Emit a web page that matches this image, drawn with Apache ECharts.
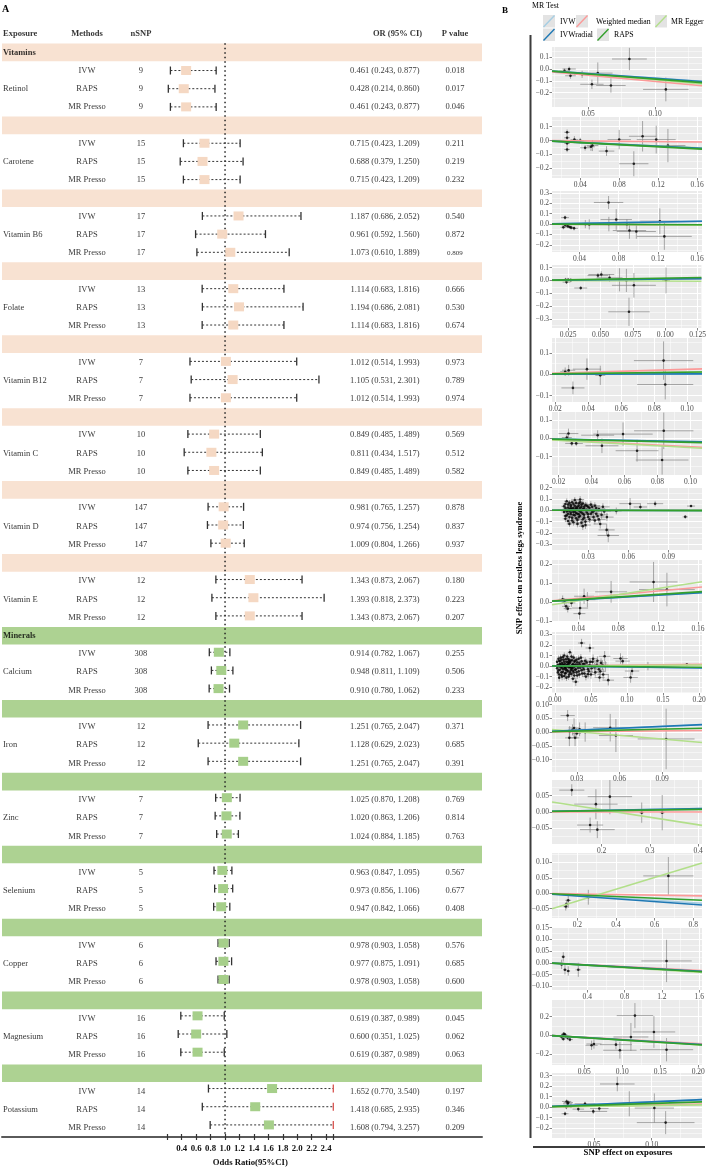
<!DOCTYPE html>
<html><head><meta charset="utf-8">
<script src="https://cdn.jsdelivr.net/npm/echarts@6/dist/echarts.min.js"></script>
<style>html,body{margin:0;padding:0;background:#fff}#c{width:709px;height:1172px}</style>
</head><body><div id="c"></div>
<script>
// ================= DATA : panel A (forest table) =================
const vitaminExposures = ["Retinol","Carotene","Vitamin B6","Folate","Vitamin B12","Vitamin C","Vitamin D","Vitamin E"];
const mineralExposures = ["Calcium","Iron","Zinc","Selenium","Copper","Magnesium","Potassium"];
const methods = ["IVW","RAPS","MR Presso"];
const nSNP = [9,15,17,13,7,10,147,12,308,12,7,5,6,16,14];
const orEstimate = [[0.461,0.428,0.461],[0.715,0.688,0.715],[1.187,0.961,1.073],[1.114,1.194,1.114],[1.012,1.105,1.012],[0.849,0.811,0.849],[0.981,0.974,1.009],[1.343,1.393,1.343],[0.914,0.948,0.910],[1.251,1.128,1.251],[1.025,1.020,1.024],[0.963,0.973,0.947],[0.978,0.977,0.978],[0.619,0.600,0.619],[1.652,1.418,1.608]];
const orLower = [[0.243,0.214,0.243],[0.423,0.379,0.423],[0.686,0.592,0.610],[0.683,0.686,0.683],[0.514,0.531,0.514],[0.485,0.434,0.485],[0.765,0.756,0.804],[0.873,0.818,0.873],[0.782,0.811,0.780],[0.765,0.629,0.765],[0.870,0.863,0.884],[0.847,0.856,0.842],[0.903,0.875,0.903],[0.387,0.351,0.387],[0.770,0.685,0.794]];
const orUpper = [[0.877,0.860,0.877],[1.209,1.250,1.209],[2.052,1.560,1.889],[1.816,2.081,1.816],[1.993,2.301,1.993],[1.489,1.517,1.489],[1.257,1.254,1.266],[2.067,2.373,2.067],[1.067,1.109,1.062],[2.047,2.023,2.047],[1.208,1.206,1.185],[1.095,1.106,1.066],[1.058,1.091,1.058],[0.989,1.025,0.989],[3.540,2.935,3.257]];
const pValues = [["0.018","0.017","0.046"],["0.211","0.219","0.232"],["0.540","0.872","0.809"],["0.666","0.530","0.674"],["0.973","0.789","0.974"],["0.569","0.512","0.582"],["0.878","0.837","0.937"],["0.180","0.223","0.207"],["0.255","0.506","0.233"],["0.371","0.685","0.391"],["0.769","0.814","0.763"],["0.567","0.677","0.408"],["0.576","0.685","0.600"],["0.045","0.062","0.063"],["0.197","0.346","0.209"]];
const pValueSmall = [[2,2]];
const orAxisMin = 0.2, orAxisMax = 2.5, orAxisStep = 0.2, orNull = 1.0;

// ================= DATA : panel B (SNP scatter) [x, y, xSE, ySE] =================
const mrTests = ["IVW","Weighted median","MR Egger","IVWradial","RAPS"];
const snpRetinol = [[0.0323,-0.016,0.004,0.02],[0.0358,0.0,0.005,0.02],[0.0368,-0.057,0.004,0.025],[0.0455,-0.045,0.006,0.03],[0.0528,-0.129,0.0087,0.04],[0.0572,-0.035,0.011,0.09],[0.067,-0.139,0.011,0.06],[0.0808,0.084,0.013,0.094],[0.108,-0.172,0.017,0.1]];
const snpCarotene = [[0.0265,0.06,0.003,0.02],[0.0265,0.02,0.003,0.02],[0.0265,-0.02,0.003,0.025],[0.0265,-0.064,0.003,0.02],[0.034,0.007,0.004,0.025],[0.04,0.0,0.004,0.02],[0.045,-0.052,0.005,0.02],[0.051,-0.045,0.004,0.03],[0.0525,-0.036,0.006,0.04],[0.067,-0.076,0.008,0.035],[0.080,0.007,0.012,0.07],[0.095,-0.167,0.015,0.09],[0.104,0.031,0.014,0.11],[0.118,0.007,0.02,0.1],[0.130,-0.036,0.018,0.12]];
const snpVitaminB6 = [[0.0253,0.0625,0.004,0.02],[0.0236,-0.031,0.003,0.02],[0.0255,-0.01,0.003,0.02],[0.028,-0.02,0.003,0.015],[0.03,-0.028,0.003,0.015],[0.0315,-0.034,0.004,0.02],[0.0345,-0.041,0.004,0.02],[0.046,0.0,0.004,0.04],[0.05,-0.003,0.005,0.05],[0.0697,0.209,0.015,0.0625],[0.07,0.0,0.003,0.07],[0.0775,0.044,0.016,0.1],[0.0884,-0.003,0.007,0.05],[0.091,-0.0625,0.017,0.08],[0.098,-0.072,0.02,0.07],[0.122,0.028,0.02,0.125],[0.1266,-0.119,0.028,0.13]];
const snpFolate = [[0.023,0.005,0.003,0.015],[0.025,0.005,0.003,0.015],[0.0237,-0.013,0.003,0.015],[0.027,0.002,0.003,0.015],[0.0347,-0.059,0.005,0.015],[0.048,0.038,0.008,0.02],[0.0506,0.046,0.01,0.025],[0.057,0.02,0.01,0.03],[0.0647,0.005,0.004,0.09],[0.07,0.0,0.004,0.09],[0.0758,-0.038,0.017,0.096],[0.072,-0.244,0.016,0.11],[0.1006,0.0,0.003,0.1]];
const snpVitaminB12 = [[0.026,0.012,0.003,0.02],[0.0281,0.019,0.004,0.025],[0.0307,-0.064,0.007,0.03],[0.0392,0.024,0.0086,0.05],[0.0473,-0.005,0.003,0.045],[0.0857,0.064,0.018,0.09],[0.0867,-0.048,0.017,0.07]];
const snpVitaminC = [[0.025,0.005,0.003,0.02],[0.026,0.027,0.006,0.027],[0.028,-0.027,0.004,0.015],[0.0307,-0.027,0.004,0.015],[0.0437,0.018,0.01,0.027],[0.0463,-0.04,0.01,0.04],[0.0591,0.024,0.018,0.064],[0.0676,-0.067,0.013,0.06],[0.0838,0.042,0.018,0.1],[0.0828,-0.118,0.016,0.08]];
const snpVitaminD = [[0.013,0.020,0.002,0.025],[0.014,-0.010,0.002,0.022],[0.015,0.050,0.002,0.028],[0.015,-0.030,0.002,0.024],[0.016,0.010,0.002,0.020],[0.016,-0.060,0.002,0.026],[0.017,0.030,0.002,0.023],[0.017,-0.020,0.002,0.021],[0.018,0.000,0.002,0.020],[0.018,0.070,0.003,0.030],[0.019,-0.040,0.002,0.025],[0.019,0.020,0.002,0.022],[0.020,-0.010,0.003,0.020],[0.020,0.040,0.003,0.026],[0.021,-0.070,0.003,0.030],[0.021,0.010,0.003,0.021],[0.022,0.030,0.003,0.024],[0.022,-0.030,0.003,0.022],[0.023,0.000,0.003,0.020],[0.023,0.060,0.003,0.028],[0.024,-0.050,0.003,0.026],[0.024,0.020,0.003,0.022],[0.025,-0.020,0.003,0.024],[0.025,0.050,0.003,0.030],[0.026,0.010,0.003,0.022],[0.026,-0.080,0.003,0.032],[0.027,0.030,0.003,0.025],[0.027,-0.040,0.003,0.026],[0.028,0.000,0.004,0.024],[0.029,0.040,0.004,0.028],[0.029,-0.020,0.004,0.026],[0.030,-0.060,0.004,0.030],[0.031,0.020,0.004,0.026],[0.032,-0.030,0.004,0.028],[0.033,0.030,0.004,0.030],[0.034,-0.010,0.004,0.028],[0.035,-0.090,0.004,0.034],[0.036,0.020,0.004,0.030],[0.037,-0.050,0.005,0.032],[0.038,0.010,0.005,0.030],[0.040,-0.040,0.005,0.034],[0.041,0.030,0.005,0.032],[0.014,0.080,0.002,0.024],[0.016,-0.120,0.002,0.026],[0.018,-0.090,0.002,0.028],[0.020,0.090,0.003,0.026],[0.022,-0.120,0.003,0.030],[0.024,0.070,0.003,0.028],[0.026,-0.140,0.003,0.034],[0.028,-0.100,0.004,0.032],[0.013,-0.050,0.002,0.022],[0.015,0.000,0.002,0.020],[0.017,0.010,0.002,0.020],[0.019,-0.015,0.002,0.020],[0.021,0.025,0.003,0.022],[0.023,-0.035,0.003,0.024],[0.012,0.035,0.002,0.024],[0.012,-0.015,0.002,0.022],[0.013,0.055,0.002,0.026],[0.013,-0.075,0.002,0.028],[0.014,0.005,0.002,0.020],[0.014,-0.045,0.002,0.024],[0.015,0.025,0.002,0.022],[0.015,-0.095,0.002,0.030],[0.016,0.065,0.002,0.026],[0.016,-0.005,0.002,0.020],[0.017,-0.035,0.002,0.024],[0.017,0.045,0.002,0.026],[0.018,-0.065,0.002,0.028],[0.018,0.015,0.002,0.022],[0.019,0.055,0.003,0.026],[0.019,-0.105,0.003,0.030],[0.020,-0.045,0.003,0.026],[0.020,0.005,0.003,0.022],[0.021,0.065,0.003,0.028],[0.021,-0.025,0.003,0.024],[0.022,0.010,0.003,0.022],[0.022,-0.085,0.003,0.030],[0.023,0.040,0.003,0.026],[0.023,-0.060,0.003,0.028],[0.024,-0.010,0.003,0.024],[0.024,0.095,0.003,0.030],[0.025,0.030,0.003,0.026],[0.025,-0.110,0.003,0.032],[0.026,-0.030,0.003,0.026],[0.026,0.060,0.003,0.028],[0.027,-0.065,0.003,0.028],[0.027,0.010,0.003,0.024],[0.028,0.045,0.004,0.028],[0.028,-0.130,0.004,0.034],[0.029,0.005,0.004,0.026],[0.030,0.030,0.004,0.028],[0.030,-0.035,0.004,0.028],[0.031,-0.080,0.004,0.030],[0.032,0.050,0.004,0.030],[0.033,-0.015,0.004,0.028],[0.034,-0.060,0.004,0.030],[0.035,0.040,0.004,0.030],[0.036,-0.030,0.004,0.030],[0.038,-0.080,0.005,0.034],[0.042,-0.010,0.005,0.032],[0.044,-0.060,0.005,0.036],[0.039,-0.121,0.005,0.040],[0.0438,-0.173,0.006,0.050],[0.045,-0.222,0.008,0.060],[0.051,-0.006,0.004,0.030],[0.0613,0.058,0.008,0.050],[0.069,0.029,0.005,0.030],[0.080,0.058,0.006,0.025],[0.1025,-0.058,0.002,0.015],[0.1068,0.037,0.003,0.010]];
const snpVitaminE = [[0.0242,0.014,0.004,0.02],[0.026,0.0,0.003,0.02],[0.0276,-0.023,0.004,0.02],[0.0293,-0.035,0.004,0.02],[0.033,-0.005,0.004,0.02],[0.041,-0.061,0.006,0.03],[0.0417,-0.032,0.008,0.035],[0.0457,0.03,0.01,0.04],[0.049,0.012,0.008,0.04],[0.0728,0.053,0.016,0.057],[0.1154,0.105,0.024,0.105],[0.1288,0.065,0.028,0.088]];
const snpCalcium = [[0.004,0.010,0.001,0.030],[0.005,-0.040,0.001,0.035],[0.006,0.050,0.001,0.030],[0.006,-0.080,0.001,0.035],[0.007,0.020,0.001,0.025],[0.008,-0.010,0.002,0.028],[0.008,0.080,0.002,0.030],[0.009,-0.060,0.002,0.030],[0.010,0.030,0.002,0.025],[0.010,-0.100,0.002,0.035],[0.011,0.000,0.002,0.022],[0.012,0.060,0.002,0.028],[0.012,-0.030,0.002,0.026],[0.013,0.100,0.002,0.030],[0.014,-0.070,0.002,0.030],[0.014,0.020,0.002,0.024],[0.015,-0.020,0.002,0.025],[0.016,0.040,0.002,0.026],[0.016,-0.110,0.002,0.032],[0.017,0.010,0.002,0.024],[0.018,-0.050,0.002,0.028],[0.018,0.070,0.003,0.030],[0.019,-0.010,0.003,0.025],[0.020,0.030,0.003,0.026],[0.020,-0.080,0.003,0.030],[0.021,0.000,0.003,0.024],[0.022,0.050,0.003,0.028],[0.022,-0.040,0.003,0.028],[0.023,0.090,0.003,0.032],[0.024,-0.020,0.003,0.026],[0.025,0.020,0.003,0.026],[0.025,-0.120,0.003,0.034],[0.026,-0.060,0.003,0.030],[0.027,0.040,0.003,0.028],[0.028,0.000,0.003,0.026],[0.029,-0.030,0.004,0.028],[0.030,0.060,0.004,0.030],[0.031,-0.090,0.004,0.032],[0.032,0.010,0.004,0.028],[0.033,-0.050,0.004,0.030],[0.034,0.030,0.004,0.030],[0.035,-0.015,0.004,0.030],[0.036,0.080,0.004,0.034],[0.038,-0.070,0.005,0.034],[0.039,0.020,0.005,0.032],[0.040,-0.030,0.005,0.032],[0.042,0.050,0.005,0.034],[0.043,-0.100,0.005,0.036],[0.045,0.000,0.005,0.034],[0.047,-0.050,0.006,0.036],[0.049,0.040,0.006,0.036],[0.051,-0.020,0.006,0.038],[0.053,0.070,0.006,0.040],[0.056,-0.060,0.007,0.040],[0.058,0.010,0.007,0.040],[0.061,-0.030,0.007,0.042],[0.064,0.030,0.008,0.044],[0.067,-0.080,0.008,0.046],[0.070,0.000,0.008,0.046],[0.009,0.000,0.002,0.020],[0.013,-0.005,0.002,0.020],[0.017,0.005,0.002,0.020],[0.021,-0.012,0.003,0.022],[0.027,0.008,0.003,0.024],[0.011,0.015,0.002,0.022],[0.015,-0.035,0.002,0.024],[0.019,0.045,0.003,0.026],[0.023,-0.025,0.003,0.024],[0.003,0.040,0.001,0.030],[0.003,-0.020,0.001,0.030],[0.004,-0.060,0.001,0.032],[0.005,0.070,0.001,0.030],[0.005,0.000,0.001,0.026],[0.006,-0.110,0.001,0.036],[0.007,0.045,0.001,0.028],[0.007,-0.035,0.001,0.028],[0.008,0.015,0.002,0.024],[0.009,-0.085,0.002,0.032],[0.009,0.060,0.002,0.028],[0.010,-0.020,0.002,0.024],[0.011,0.085,0.002,0.030],[0.011,-0.055,0.002,0.028],[0.012,0.010,0.002,0.022],[0.013,-0.095,0.002,0.032],[0.013,0.040,0.002,0.026],[0.014,-0.015,0.002,0.024],[0.015,0.065,0.002,0.028],[0.015,-0.065,0.002,0.028],[0.016,0.000,0.002,0.022],[0.017,0.090,0.002,0.030],[0.017,-0.040,0.002,0.026],[0.018,0.030,0.002,0.026],[0.019,-0.100,0.003,0.032],[0.019,0.010,0.003,0.024],[0.020,0.060,0.003,0.028],[0.021,-0.060,0.003,0.028],[0.021,0.035,0.003,0.026],[0.022,-0.005,0.003,0.024],[0.023,-0.075,0.003,0.030],[0.024,0.055,0.003,0.028],[0.024,0.010,0.003,0.024],[0.025,-0.045,0.003,0.028],[0.026,0.080,0.003,0.030],[0.026,-0.010,0.003,0.026],[0.027,-0.090,0.003,0.032],[0.028,0.050,0.003,0.028],[0.028,-0.035,0.003,0.028],[0.029,0.015,0.004,0.026],[0.030,-0.060,0.004,0.030],[0.031,0.035,0.004,0.028],[0.032,-0.015,0.004,0.028],[0.033,0.070,0.004,0.032],[0.034,-0.080,0.004,0.032],[0.035,0.010,0.004,0.028],[0.037,0.045,0.004,0.032],[0.037,-0.040,0.005,0.032],[0.039,-0.010,0.005,0.030],[0.041,0.020,0.005,0.032],[0.041,-0.070,0.005,0.034],[0.044,0.035,0.005,0.034],[0.046,-0.030,0.005,0.036],[0.048,0.010,0.006,0.036],[0.050,-0.080,0.006,0.040],[0.052,0.040,0.006,0.038],[0.055,-0.010,0.007,0.040],[0.059,0.050,0.007,0.042],[0.063,-0.050,0.008,0.044],[0.066,0.010,0.008,0.044],[0.037,0.219,0.005,0.04],[0.0485,0.172,0.006,0.04],[0.0208,0.131,0.003,0.03],[0.069,0.093,0.008,0.05],[0.074,-0.134,0.008,0.05],[0.029,-0.15,0.004,0.04],[0.062,-0.108,0.007,0.04],[0.091,0.072,0.01,0.05],[0.094,0.047,0.01,0.05],[0.107,-0.047,0.01,0.04],[0.105,-0.108,0.01,0.05],[0.183,0.016,0.005,0.01],[0.046,-0.078,0.006,0.04],[0.129,0.0,0.003,0.04]];
const snpIron = [[0.0236,0.06,0.005,0.02],[0.025,0.002,0.003,0.02],[0.0248,-0.021,0.003,0.03],[0.027,0.008,0.003,0.02],[0.0281,0.015,0.004,0.035],[0.0288,-0.021,0.003,0.03],[0.03,-0.005,0.003,0.02],[0.032,0.01,0.004,0.025],[0.0359,0.0,0.004,0.035],[0.0535,0.016,0.012,0.05],[0.0575,-0.0125,0.012,0.06],[0.0928,-0.025,0.02,0.11]];
const snpZinc = [[0.138,0.067,0.026,0.018],[0.188,0.024,0.045,0.046],[0.217,0.047,0.046,0.054],[0.176,-0.04,0.027,0.023],[0.191,-0.054,0.036,0.026],[0.283,-0.002,0.005,0.031],[0.3255,-0.002,0.005,0.054]];
const snpSelenium = [[0.14,-0.043,0.012,0.013],[0.145,-0.035,0.01,0.015],[0.153,-0.023,0.015,0.024],[0.257,-0.013,0.01,0.024],[0.671,0.056,0.13,0.061]];
const snpCopper = [[0.125,-0.006,0.02,0.02],[0.143,0.026,0.02,0.02],[0.161,-0.029,0.02,0.02],[0.196,-0.034,0.02,0.02],[0.304,-0.029,0.03,0.03],[1.25,0.0086,0.27,0.09]];
const snpMagnesium = [[0.0202,-0.018,0.003,0.02],[0.021,-0.002,0.003,0.015],[0.0224,-0.039,0.003,0.02],[0.023,0.015,0.003,0.02],[0.0246,0.007,0.003,0.02],[0.0254,-0.011,0.003,0.02],[0.028,-0.025,0.004,0.02],[0.0311,-0.046,0.004,0.02],[0.0596,-0.107,0.008,0.05],[0.0627,-0.093,0.01,0.05],[0.0917,-0.1,0.021,0.05],[0.0969,-0.16,0.022,0.09],[0.1114,-0.018,0.023,0.15],[0.1167,0.211,0.024,0.134],[0.1417,0.036,0.028,0.17],[0.1583,-0.154,0.035,0.125]];
const snpPotassium = [[0.0249,-0.063,0.003,0.02],[0.026,0.0,0.003,0.02],[0.0263,0.054,0.004,0.02],[0.0272,0.032,0.004,0.02],[0.0277,0.044,0.004,0.02],[0.03,0.01,0.004,0.02],[0.0364,-0.019,0.005,0.025],[0.0422,0.032,0.009,0.02],[0.0494,-0.041,0.012,0.025],[0.0546,-0.0126,0.008,0.03],[0.0702,0.221,0.015,0.07],[0.0806,0.032,0.015,0.12],[0.1023,-0.009,0.017,0.14],[0.1121,-0.148,0.025,0.11]];
// MR line slopes per exposure: [IVW, Weighted median, MR Egger, IVWradial, RAPS]
const lineSlopes = [[-0.774,-1.05,-1.0,-0.78,-0.849],[-0.335,-0.06,-0.33,-0.34,-0.374],[0.171,-0.05,-0.1,0.17,-0.04],[0.108,0.12,-0.05,0.11,0.177],[0.012,0.23,0.1,0.015,0.1],[-0.164,-0.45,-0.5,-0.17,-0.21],[-0.019,0.0,0.01,-0.02,-0.026],[0.295,0.48,0.8,0.3,0.331],[-0.09,0.08,0.05,-0.09,-0.053],[0.224,0.05,-0.45,0.23,0.12],[0.025,0.0,-0.23,0.025,0.0198],[-0.038,-0.01,0.19,-0.045,-0.027],[-0.022,-0.02,-0.025,-0.022,-0.023],[-0.48,-0.45,-0.5,-0.48,-0.51],[0.502,0.2,0.15,0.5,0.349]];
const eggerIntercepts = [0.01,0.0,0.005,0.0,0.0,0.0,0.0,-0.025,0.0,0.015,0.053,-0.063,0.0,0.0,0.0];
const panelXTicks = [[0.05,0.10],[0.04,0.08,0.12,0.16],[0.04,0.08,0.12,0.16],[0.025,0.050,0.075,0.100,0.125],[0.02,0.04,0.06,0.08,0.10],[0.02,0.04,0.06,0.08,0.10],[0.03,0.06,0.09],[0.04,0.08,0.12,0.16],[0.00,0.05,0.10,0.15,0.20],[0.03,0.06,0.09],[0.2,0.3,0.4],[0.2,0.4,0.6,0.8],[0.4,0.8,1.2,1.6],[0.05,0.10,0.15,0.20],[0.05,0.10]];
const panelYTicks = [[-0.2,-0.1,0,0.1],[-0.2,-0.1,0,0.1],[-0.2,-0.1,0,0.1,0.2,0.3],[-0.3,-0.2,-0.1,0,0.1],[-0.1,0,0.1],[-0.1,0,0.1],[-0.3,-0.2,-0.1,0,0.1,0.2],[-0.1,0,0.1,0.2],[-0.2,-0.1,0,0.1,0.2,0.3],[-0.10,-0.05,0,0.05,0.10],[-0.05,0,0.05],[-0.05,0,0.05,0.10],[-0.10,-0.05,0,0.05,0.10,0.15],[-0.2,0,0.2],[-0.2,-0.1,0,0.1,0.2,0.3]];

// ================= LAYOUT / STYLE =================
const FONT = '"Liberation Serif","Times New Roman",serif';
const snpPanels = [snpRetinol,snpCarotene,snpVitaminB6,snpFolate,snpVitaminB12,snpVitaminC,snpVitaminD,snpVitaminE,snpCalcium,snpIron,snpZinc,snpSelenium,snpCopper,snpMagnesium,snpPotassium];
const panelXRange = [[0.023,0.135],[0.011,0.165],[0.012,0.165],[0.0125,0.128],[0.018,0.109],[0.016,0.107],[0.003,0.115],[0.0135,0.164],[-0.004,0.204],[0.0126,0.118],[0.097,0.408],[0.069,0.845],[0.022,1.63],[0.0075,0.205],[0.0136,0.1436]];
const panelYRange = [[-0.32,0.185],[-0.27,0.17],[-0.27,0.32],[-0.37,0.12],[-0.13,0.17],[-0.2,0.145],[-0.35,0.205],[-0.105,0.22],[-0.256,0.324],[-0.145,0.102],[-0.098,0.098],[-0.08,0.13],[-0.115,0.153],[-0.318,0.378],[-0.295,0.326]];
const panelXDec = [2,2,2,3,2,2,2,2,2,2,1,1,1,2,2];
const panelYDec = [1,1,1,1,1,1,1,1,1,2,2,2,2,1,1];
const panelTops = [47,117,191,265,338,412,487,560,632,704,780,853,927,1000,1073];
const panelHeights = [60,61,61,63,64,63,63,62,61,68,64,65,63,65,65];
const lineColors = ['#A6CEE3','#FB9A99','#B2DF8A','#1F78B4','#33A02C'];
const peachBand = '#F8E2D2', peachBox = '#F5D8C3', greenBand = '#ADD292', greenBox = '#A6CF8A';
const rowH = 18.23, tableTop = 25.07, nRows = 61;

const allExposures = vitaminExposures.concat(mineralExposures);
const grids = [], xAxes = [], yAxes = [], series = [];

// ---- table grid (0) ----
grids.push({left:2, top:tableTop, width:480, height:nRows*rowH, show:false});
xAxes.push({type:'value', gridIndex:0, min:0, max:480, position:'bottom',
  axisLine:{show:true, onZero:false, lineStyle:{color:'#5a5a5a', width:2}},
  axisTick:{show:false}, axisLabel:{show:false}, splitLine:{show:false}});
yAxes.push({type:'value', gridIndex:0, min:0, max:nRows, inverse:true, show:false});
// ---- forest grid (1) ----
grids.push({left:167.3, top:tableTop, width:166, height:nRows*rowH, show:false});
xAxes.push({type:'value', gridIndex:1, min:orAxisMin, max:orAxisMax, interval:orAxisStep, position:'bottom',
  axisLine:{show:false, onZero:false},
  axisTick:{show:true, length:6, lineStyle:{color:'#333', width:1.2}},
  axisLabel:{show:true, margin:10, fontFamily:FONT, fontSize:8.8, fontWeight:'bold', color:'#111',
    formatter: v => (v < 0.3 || v > 2.45) ? '' : v.toFixed(1)},
  splitLine:{show:false},
  name:'Odds Ratio(95%CI)', nameLocation:'middle', nameGap:24,
  nameTextStyle:{fontFamily:FONT, fontSize:8.7, fontWeight:'bold', color:'#111'}});
yAxes.push({type:'value', gridIndex:1, min:0, max:nRows, inverse:true, show:false});

// bands
const bandData = allExposures.map((e, i) => [1 + 4 * i, i < vitaminExposures.length ? 0 : 1]);
series.push({type:'custom', xAxisIndex:0, yAxisIndex:0, silent:true, z:1, data:bandData,
  renderItem:(params, api) => {
    const r = api.value(0);
    const p0 = api.coord([0, r]), p1 = api.coord([480, r + 1]);
    return {type:'rect', shape:{x:p0[0], y:p0[1] + 0.3, width:p1[0] - p0[0], height:p1[1] - p0[1] - 0.6},
      style:{fill: api.value(1) ? greenBand : peachBand}};
  }});

// text helper
function textSeries(items, align, bold, size) {
  return {type:'scatter', xAxisIndex:0, yAxisIndex:0, symbolSize:0.01, silent:true, z:6,
    itemStyle:{color:'rgba(0,0,0,0)'},
    data: items.map(it => ({value:[it[0], it[1]], name:it[2], label: it[3] ? {fontSize: it[3]} : undefined})),
    label:{show:true, position:[0,0], align:align, verticalAlign:'middle', formatter:'{b}',
      fontFamily:FONT, fontSize:size, fontWeight: bold ? 'bold' : 'normal', color:'#000'}};
}
const colExp = 1, colMeth = 85, colN = 139, colOREnd = 417.5, colORHead = 395.5, colP = 453;
series.push(textSeries([[colExp, 0.5, 'Exposure'], [colExp, 1.5, 'Vitamins'], [colExp, 1.5 + 4 * vitaminExposures.length, 'Minerals']], 'left', true, 8.5));
series.push(textSeries([[colMeth, 0.5, 'Methods'], [colN, 0.5, 'nSNP'], [colORHead, 0.5, 'OR (95% CI)'], [colP, 0.5, 'P value']], 'center', true, 8.5));
const expItems = [], methItems = [], nItems = [], orItems = [], pItems = [];
allExposures.forEach((e, i) => {
  expItems.push([colExp, 3.5 + 4 * i, e]);
  methods.forEach((m, j) => {
    const rc = 2.5 + 4 * i + j;
    methItems.push([colMeth, rc, m]);
    nItems.push([colN, rc, String(nSNP[i])]);
    orItems.push([colOREnd, rc, orEstimate[i][j].toFixed(3) + ' (' + orLower[i][j].toFixed(3) + ', ' + orUpper[i][j].toFixed(3) + ')']);
    const small = pValueSmall.some(s => s[0] === i && s[1] === j);
    pItems.push([colP, rc, pValues[i][j], small ? 7 : null]);
  });
});
series.push(textSeries(expItems, 'left', false, 8.5));
series.push(textSeries(methItems.concat(nItems, pItems), 'center', false, 8.5));
series.push(textSeries(orItems, 'right', false, 8.5));

// null line
series.push({type:'line', xAxisIndex:1, yAxisIndex:1, silent:true, z:3, symbol:'none',
  data:[[orNull, 1], [orNull, nRows]], lineStyle:{color:'#222', width:1.5, type:[1.5, 3]}});
// forest rows
const forestData = [];
allExposures.forEach((e, i) => methods.forEach((m, j) => {
  forestData.push([orEstimate[i][j], orLower[i][j], orUpper[i][j], 2 + 4 * i + j, i < vitaminExposures.length ? 0 : 1]);
}));
series.push({type:'custom', xAxisIndex:1, yAxisIndex:1, silent:true, z:4, data:forestData,
  renderItem:(params, api) => {
    const est = api.value(0), lo = api.value(1), hi = api.value(2), r = api.value(3), g = api.value(4);
    const yc = api.coord([1, r + 0.5])[1];
    const xl = api.coord([Math.max(lo, orAxisMin), 0])[0];
    const xh = api.coord([Math.min(hi, orAxisMax), 0])[0];
    const xo = api.coord([est, 0])[0];
    const clipped = hi > orAxisMax;
    return {type:'group', children:[
      {type:'line', shape:{x1:xl, y1:yc, x2:xh, y2:yc}, style:{stroke:'#333', lineWidth:1, lineDash:[2, 2]}},
      {type:'line', shape:{x1:xl, y1:yc - 4, x2:xl, y2:yc + 4}, style:{stroke:'#333', lineWidth:1.3}},
      {type:'line', shape:{x1:xh, y1:yc - 4, x2:xh, y2:yc + 4}, style:{stroke: clipped ? '#D9534F' : '#333', lineWidth:1.3}},
      {type:'rect', shape:{x:xo - 5, y:yc - 4.5, width:10, height:9}, style:{fill: g ? greenBox : peachBox}}
    ]};
  }});

// ---- scatter panels ----
function fmt(v, d) {
  let s = v.toFixed(d);
  if (Math.abs(parseFloat(s)) === 0) s = (0).toFixed(d);
  return s.replace('-', '\u2212');
}
function minorsOf(t, range) {
  const d = t[1] - t[0], out = [];
  for (let k = -1; k < t.length; k++) {
    const v = t[0] + (k + 0.5) * d;
    if (v > range[0] && v < range[1]) out.push(+v.toFixed(6));
  }
  return out;
}
snpPanels.forEach((pts, p) => {
  const g = grids.length;
  grids.push({left:552, top:panelTops[p], width:150, height:panelHeights[p], show:true, backgroundColor:'#EBEBEB', borderWidth:0});
  const xr = panelXRange[p], yr = panelYRange[p];
  const xt = panelXTicks[p], yt = panelYTicks[p];
  const xm = minorsOf(xt, xr), ym = minorsOf(yt, yr);
  const xi = xAxes.length, yi = yAxes.length;
  const lab = (d) => ({show:true, fontFamily:FONT, fontSize:7.5, color:'#4D4D4D', margin:3, formatter: v => fmt(v, d)});
  xAxes.push({type:'value', gridIndex:g, min:xr[0], max:xr[1], position:'bottom',
    axisLine:{show:false, onZero:false},
    axisTick:{show:true, length:2.5, lineStyle:{color:'#333', width:0.6}, customValues:xt},
    axisLabel:Object.assign(lab(panelXDec[p]), {customValues:xt}),
    splitLine:{show:true, lineStyle:{color:'#FFFFFF', width:1}}});
  xAxes.push({type:'value', gridIndex:g, min:xr[0], max:xr[1], position:'top',
    axisLine:{show:false, onZero:false}, axisTick:{show:false, customValues:xm}, axisLabel:{show:false, customValues:xm},
    splitLine:{show:true, lineStyle:{color:'#FFFFFF', width:0.5}}});
  yAxes.push({type:'value', gridIndex:g, min:yr[0], max:yr[1], position:'left',
    axisLine:{show:false, onZero:false},
    axisTick:{show:true, length:2.5, lineStyle:{color:'#333', width:0.6}, customValues:yt},
    axisLabel:Object.assign(lab(panelYDec[p]), {customValues:yt}),
    splitLine:{show:true, lineStyle:{color:'#FFFFFF', width:1}}});
  yAxes.push({type:'value', gridIndex:g, min:yr[0], max:yr[1], position:'right',
    axisLine:{show:false, onZero:false}, axisTick:{show:false, customValues:ym}, axisLabel:{show:false, customValues:ym},
    splitLine:{show:true, lineStyle:{color:'#FFFFFF', width:0.5}}});
  series.push({type:'custom', xAxisIndex:xi, yAxisIndex:yi, silent:true, clip:true, z:2, data:pts,
    encode:{x:0, y:1},
    renderItem:(params, api) => {
      const x = api.value(0), y = api.value(1), xe = api.value(2), ye = api.value(3);
      const l = api.coord([x - xe, y]), r = api.coord([x + xe, y]);
      const t = api.coord([x, y + ye]), b = api.coord([x, y - ye]);
      return {type:'group', children:[
        {type:'line', shape:{x1:l[0], y1:l[1], x2:r[0], y2:r[1]}, style:{stroke:'#858585', lineWidth:0.7}},
        {type:'line', shape:{x1:t[0], y1:t[1], x2:b[0], y2:b[1]}, style:{stroke:'#858585', lineWidth:0.7}}
      ]};
    }});
  series.push({type:'scatter', xAxisIndex:xi, yAxisIndex:yi, silent:true, z:3, symbolSize:2.6,
    itemStyle:{color:'#000'}, data:pts.map(d => [d[0], d[1]])});
  lineSlopes[p].forEach((s, k) => {
    const a = k === 2 ? eggerIntercepts[p] : 0;
    series.push({type:'line', xAxisIndex:xi, yAxisIndex:yi, silent:true, z:4 + k * 0.01, symbol:'none', clip:true,
      name: mrTests[k], data:[[xr[0], a + s * xr[0]], [xr[1], a + s * xr[1]]],
      lineStyle:{color:lineColors[k], width:1.6}});
  });
});

// ---- legend & frame for panel B ----
const graphic = [];
graphic.push({type:'text', x:532, y:6, style:{text:'MR Test', font:'7.8px ' + FONT, fill:'#000', textVerticalAlign:'middle', verticalAlign:'middle'}});
const legendPos = [[543,15,560],[576,15,596],[655,15,671],[543,28.5,560],[597,28.5,614]];
mrTests.forEach((name, k) => {
  const lp = legendPos[k];
  graphic.push({type:'rect', x:lp[0], y:lp[1], shape:{x:0, y:0, width:12, height:12.5}, style:{fill:'#E3E3E3'}});
  graphic.push({type:'line', x:lp[0], y:lp[1], shape:{x1:0.5, y1:12, x2:11.5, y2:0.5}, style:{stroke:lineColors[k], lineWidth:1.4}});
  graphic.push({type:'text', x:lp[2], y:lp[1] + 6.5, style:{text:name, font:'7.8px ' + FONT, fill:'#000', textVerticalAlign:'middle', verticalAlign:'middle'}});
});
graphic.push({type:'line', shape:{x1:530.5, y1:35, x2:530.5, y2:1138}, style:{stroke:'#3C3C3C', lineWidth:2}});
graphic.push({type:'line', shape:{x1:533, y1:1147, x2:705, y2:1147}, style:{stroke:'#3C3C3C', lineWidth:2}});
graphic.push({type:'text', x:628, y:1153, style:{text:'SNP effect on exposures', font:'bold 8.7px ' + FONT, fill:'#000', textAlign:'center', align:'center', textVerticalAlign:'middle', verticalAlign:'middle'}});
graphic.push({type:'text', x:520, y:568, rotation:Math.PI / 2, style:{text:'SNP effect on restless legs syndrome', font:'bold 8.6px ' + FONT, fill:'#000', textAlign:'center', align:'center', textVerticalAlign:'middle', verticalAlign:'middle'}});

const chart = echarts.init(document.getElementById('c'), null, {renderer:'canvas'});
chart.setOption({
  animation:false,
  backgroundColor:'#FFFFFF',
  title:[
    {text:'A', left:2, top:4, padding:0, textStyle:{fontFamily:FONT, fontSize:10, fontWeight:'bold', color:'#000'}},
    {text:'B', left:502, top:6, padding:0, textStyle:{fontFamily:FONT, fontSize:9, fontWeight:'bold', color:'#000'}}
  ],
  grid:grids, xAxis:xAxes, yAxis:yAxes, series:series, graphic:graphic
});
</script>
</body></html>
